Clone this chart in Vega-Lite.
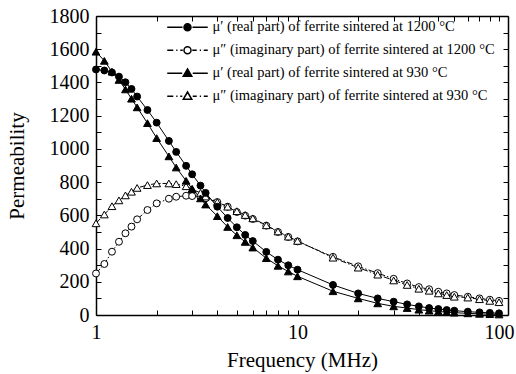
{
  "$schema": "https://vega.github.io/schema/vega-lite/v6.json",
  "width": 412,
  "height": 299,
  "autosize": "none",
  "padding": {"left": 96, "top": 16, "right": 8, "bottom": 59},
  "background": "white",
  "config": {
    "view": {"stroke": null},
    "font": "Liberation Serif",
    "axis": {
      "grid": false,
      "labelFont": "Liberation Serif",
      "titleFont": "Liberation Serif",
      "labelFontSize": 20,
      "titleFontSize": 21,
      "titleFontWeight": "normal",
      "labelColor": "black",
      "titleColor": "black",
      "domainColor": "black",
      "domainWidth": 1.5,
      "tickColor": "black",
      "tickWidth": 1,
      "tickSize": -5
    }
  },
  "datasets": {
    "names": [
      {"s": "a", "series": "μ′ (real part) of ferrite sintered at 1200 °C", "part": "real", "temp": "1200"},
      {"s": "b", "series": "μ″ (imaginary part) of ferrite sintered at 1200 °C", "part": "imag", "temp": "1200"},
      {"s": "c", "series": "μ′ (real part) of ferrite sintered at 930 °C", "part": "real", "temp": "930"},
      {"s": "d", "series": "μ″ (imaginary part) of ferrite sintered at 930 °C", "part": "imag", "temp": "930"}
    ]
  },
  "data": {
    "values": [
      {"f": 1, "a": 1478, "b": 250, "c": 1585, "d": 552},
      {"f": 1.1, "a": 1472, "b": 307, "c": 1530, "d": 605},
      {"f": 1.2, "a": 1460, "b": 381, "c": 1465, "d": 655},
      {"f": 1.3, "a": 1435, "b": 441, "c": 1415, "d": 690},
      {"f": 1.4, "a": 1401, "b": 492, "c": 1358, "d": 720},
      {"f": 1.5, "a": 1361, "b": 532, "c": 1302, "d": 742},
      {"f": 1.6, "a": 1315, "b": 576, "c": 1250, "d": 765},
      {"f": 1.8, "a": 1234, "b": 632, "c": 1155, "d": 782},
      {"f": 2.0, "a": 1158, "b": 672, "c": 1065, "d": 792},
      {"f": 2.3, "a": 1048, "b": 700, "c": 955, "d": 792},
      {"f": 2.5, "a": 982, "b": 712, "c": 888, "d": 788},
      {"f": 2.8, "a": 898, "b": 718, "c": 808, "d": 775},
      {"f": 3.0, "a": 847, "b": 716, "c": 760, "d": 757},
      {"f": 3.3, "a": 779, "b": 710, "c": 702, "d": 735},
      {"f": 3.5, "a": 735, "b": 702, "c": 665, "d": 713},
      {"f": 4.0, "a": 652, "b": 680, "c": 595, "d": 680},
      {"f": 4.5, "a": 584, "b": 652, "c": 530, "d": 652},
      {"f": 5.0, "a": 528, "b": 620, "c": 480, "d": 625},
      {"f": 5.5, "a": 482, "b": 598, "c": 440, "d": 602},
      {"f": 6.0, "a": 445, "b": 578, "c": 406, "d": 582},
      {"f": 7.0, "a": 380, "b": 538, "c": 342, "d": 540},
      {"f": 8.0, "a": 333, "b": 500, "c": 296, "d": 503},
      {"f": 9.0, "a": 299, "b": 470, "c": 262, "d": 472},
      {"f": 10, "a": 273, "b": 443, "c": 233, "d": 446},
      {"f": 15, "a": 181, "b": 350, "c": 143, "d": 345},
      {"f": 20, "a": 130, "b": 293, "c": 100, "d": 285},
      {"f": 25, "a": 100, "b": 252, "c": 70, "d": 243},
      {"f": 30, "a": 80, "b": 218, "c": 52, "d": 208},
      {"f": 35, "a": 64, "b": 190, "c": 42, "d": 181},
      {"f": 40, "a": 52, "b": 168, "c": 32, "d": 158},
      {"f": 45, "a": 42, "b": 155, "c": 26, "d": 146},
      {"f": 50, "a": 36, "b": 140, "c": 21, "d": 130},
      {"f": 55, "a": 30, "b": 130, "c": 17, "d": 120},
      {"f": 60, "a": 26, "b": 120, "c": 14, "d": 110},
      {"f": 70, "a": 20, "b": 110, "c": 10, "d": 105},
      {"f": 80, "a": 16, "b": 100, "c": 7, "d": 95},
      {"f": 90, "a": 13, "b": 92, "c": 5, "d": 85},
      {"f": 100, "a": 10, "b": 85, "c": 3, "d": 77}
    ]
  },
  "transform": [
    {"fold": ["a", "b", "c", "d"], "as": ["s", "v"]},
    {"lookup": "s", "from": {"data": {"name": "names"}, "key": "s", "fields": ["series", "part", "temp"]}}
  ],
  "encoding": {
    "x": {"field": "f", "type": "quantitative", "scale": {"type": "log", "domain": [1, 110.8], "nice": false}, "axis": null},
    "y": {"field": "v", "type": "quantitative", "scale": {"domain": [0, 1800], "nice": false}, "axis": null}
  },
  "layer": [
    {
      "transform": [{"filter": "datum.part == 'real'"}],
      "mark": {"type": "line", "stroke": "black", "strokeWidth": 1},
      "encoding": {
        "detail": {"field": "series"},
        "x": {
          "field": "f", "type": "quantitative",
          "scale": {"type": "log", "domain": [1, 110.8], "nice": false},
          "axis": {
            "orient": "bottom",
            "title": "Frequency (MHz)",
            "values": [1, 2, 3, 4, 5, 6, 7, 8, 9, 10, 20, 30, 40, 50, 60, 70, 80, 90, 100],
            "labelExpr": "(datum.value == 1 || datum.value == 10 || datum.value == 100) ? '' + datum.value : ''",
            "labelOverlap": false,
            "labelFlush": false,
            "labelPadding": 12,
            "titlePadding": 7
          }
        },
        "y": {
          "field": "v", "type": "quantitative",
          "scale": {"domain": [0, 1800], "nice": false},
          "axis": {
            "orient": "left",
            "title": "Permeability",
            "values": [0, 100, 200, 300, 400, 500, 600, 700, 800, 900, 1000, 1100, 1200, 1300, 1400, 1500, 1600, 1700, 1800],
            "format": "d",
            "labelExpr": "datum.value % 200 == 0 ? datum.label : ''",
            "labelOverlap": false,
            "labelFlush": false,
            "labelPadding": 12,
            "titlePadding": 22
          }
        }
      }
    },
    {
      "transform": [{"filter": "datum.part == 'imag'"}],
      "mark": {"type": "line", "stroke": "black", "strokeWidth": 1, "strokeDash": [6, 2, 1.5, 2]},
      "encoding": {"detail": {"field": "series"}}
    },
    {
      "transform": [{"filter": "datum.s == 'b'"}],
      "mark": {"type": "point", "shape": "circle", "size": 48, "filled": true, "fill": "white", "stroke": "black", "strokeWidth": 1, "opacity": 1}
    },
    {
      "transform": [{"filter": "datum.s == 'd'"}],
      "mark": {"type": "point", "shape": "triangle-up", "size": 60, "filled": true, "fill": "white", "stroke": "black", "strokeWidth": 1, "opacity": 1}
    },
    {
      "transform": [{"filter": "datum.s == 'c'"}],
      "mark": {"type": "point", "shape": "triangle-up", "size": 60, "filled": true, "fill": "black", "stroke": "black", "strokeWidth": 1, "opacity": 1}
    },
    {
      "transform": [{"filter": "datum.s == 'a'"}],
      "mark": {"type": "point", "shape": "circle", "size": 48, "filled": true, "fill": "black", "stroke": "black", "strokeWidth": 1, "opacity": 1}
    },
    {
      "mark": {"type": "point", "filled": true, "opacity": 0, "stroke": "black", "strokeWidth": 1},
      "encoding": {
        "x": {
          "field": "f", "type": "quantitative",
          "scale": {"type": "log", "domain": [1, 110.8], "nice": false},
          "axis": {
            "orient": "top",
            "title": null,
            "labels": false,
            "values": [1, 2, 3, 4, 5, 6, 7, 8, 9, 10, 20, 30, 40, 50, 60, 70, 80, 90, 100]
          }
        },
        "y": {
          "field": "v", "type": "quantitative",
          "scale": {"domain": [0, 1800], "nice": false},
          "axis": {
            "orient": "right",
            "title": null,
            "labels": false,
            "values": [0, 100, 200, 300, 400, 500, 600, 700, 800, 900, 1000, 1100, 1200, 1300, 1400, 1500, 1600, 1700, 1800]
          }
        },
        "shape": {
          "field": "series", "type": "nominal",
          "scale": {
            "domain": [
              "μ′ (real part) of ferrite sintered at 1200 °C",
              "μ″ (imaginary part) of ferrite sintered at 1200 °C",
              "μ′ (real part) of ferrite sintered at 930 °C",
              "μ″ (imaginary part) of ferrite sintered at 930 °C"
            ],
            "range": [
              "M-1,0H2.05M4.05,0H7.1M3.75,0A0.7,0.7,0,1,1,2.35,0A0.7,0.7,0,1,1,3.75,0Z",
              "M-1,0H0.2M0.8,0H1.05M1.6,0H2.1M4.0,0H4.9M5.5,0H5.75M6.3,0H7.1M3.75,0A0.7,0.7,0,1,1,2.35,0A0.7,0.7,0,1,1,3.75,0Z",
              "M-1,0H2.0M4.1,0H7.1M3.05,-0.85L3.9,0.6L2.2,0.6Z",
              "M-1,0H0.2M0.8,0H1.05M1.6,0H2.0M4.1,0H4.9M5.5,0H5.75M6.3,0H7.1M3.05,-0.85L3.9,0.6L2.2,0.6Z"
            ]
          },
          "legend": {
            "title": null,
            "orient": "none",
            "legendX": 69,
            "legendY": 4,
            "symbolSize": 100,
            "labelOffset": 33,
            "labelFont": "Liberation Serif",
            "labelFontSize": 14.5,
            "labelColor": "black",
            "labelLimit": 400,
            "rowPadding": 8,
            "symbolOpacity": 1,
            "padding": 0,
            "encode": {
              "symbols": {
                "update": {
                  "stroke": {"value": "black"},
                  "strokeWidth": {"value": 1},
                  "opacity": {"value": 1},
                  "strokeOpacity": {"value": 1}
                }
              }
            }
          }
        },
        "fill": {
          "field": "series", "type": "nominal",
          "scale": {
            "domain": [
              "μ′ (real part) of ferrite sintered at 1200 °C",
              "μ″ (imaginary part) of ferrite sintered at 1200 °C",
              "μ′ (real part) of ferrite sintered at 930 °C",
              "μ″ (imaginary part) of ferrite sintered at 930 °C"
            ],
            "range": ["black", "white", "black", "white"]
          },
          "legend": {
            "title": null,
            "orient": "none",
            "legendX": 69,
            "legendY": 4,
            "symbolSize": 100,
            "labelOffset": 33,
            "labelFont": "Liberation Serif",
            "labelFontSize": 14.5,
            "labelColor": "black",
            "labelLimit": 400,
            "rowPadding": 8,
            "symbolOpacity": 1,
            "padding": 0,
            "encode": {
              "symbols": {
                "update": {
                  "stroke": {"value": "black"},
                  "strokeWidth": {"value": 1},
                  "opacity": {"value": 1},
                  "strokeOpacity": {"value": 1}
                }
              }
            }
          }
        }
      }
    }
  ],
  "resolve": {"axis": {"x": "independent", "y": "independent"}}
}
